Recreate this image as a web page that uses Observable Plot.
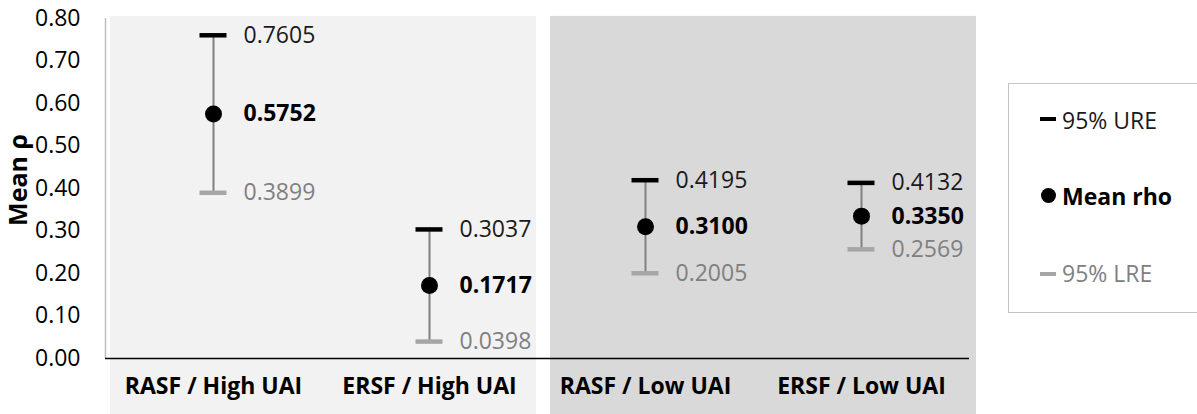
<!DOCTYPE html>
<html>
<head>
<meta charset="utf-8">
<script src="https://cdn.jsdelivr.net/npm/d3@7"></script>
<script src="https://cdn.jsdelivr.net/npm/@observablehq/plot@0.6"></script>
<style>
  html, body { margin: 0; padding: 0; background: #fff; overflow: hidden; }
  #wrap { position: relative; width: 1197px; height: 414px; font-family: "Open Sans", sans-serif; }
  #legend { position: absolute; left: 1008px; top: 83px; width: 200px; height: 230px;
            border: 1.5px solid #c4c4c4; background: #fff; box-sizing: border-box; }
  .item { position: absolute; left: 0; height: 30px; display: flex; align-items: center; font-size: 23px; }
  .sym { position: absolute; left: 31px; top: 0; }
  .lab { position: absolute; left: 53px; white-space: nowrap; }
</style>
</head>
<body>
<div id="wrap"></div>
<script>
const categories = ["RASF / High UAI", "ERSF / High UAI", "RASF / Low UAI", "ERSF / Low UAI"];
const upper = [0.7605, 0.3037, 0.4195, 0.4132];
const means = [0.5752, 0.1717, 0.3100, 0.3350];
const lower = [0.3899, 0.0398, 0.2005, 0.2569];
const yTicks = [0, 0.1, 0.2, 0.3, 0.4, 0.5, 0.6, 0.7, 0.8];
const legendLabels = ["95% URE", "Mean rho", "95% LRE"];
const yLabel = "Mean ρ";

const data = categories.map((c, i) => ({cat: c, ur: upper[i], mean: means[i], lr: lower[i]}));
const fmt4 = d3.format(".4f");

const panelTop = 0.805, panelBottom = -0.132;
const panel = (cat, fill, l, r) => Plot.barY([cat], {x: d => d, y1: panelBottom, y2: panelTop, fill, insetLeft: l, insetRight: r});

const chart = Plot.plot({
  width: 1197,
  height: 414,
  marginLeft: 105,
  marginRight: 228,
  marginTop: 18,
  marginBottom: 56,
  style: {fontFamily: "Open Sans", background: "transparent"},
  x: {domain: categories, padding: 0},
  y: {domain: [0, 0.8]},
  marks: [
    panel(categories[0], "#f2f2f2", 5, 0),
    panel(categories[1], "#f2f2f2", 0, 1),
    panel(categories[2], "#d9d9d9", 13, 0),
    panel(categories[3], "#d9d9d9", 0, -7),
    Plot.ruleX([0], {x: () => categories[0], dx: -108, y1: 0, y2: 0.8, stroke: "#bfbfbf", strokeWidth: 1.5}),
    Plot.ruleY([0], {stroke: "#000", strokeWidth: 1.5}),
    Plot.axisY({ticks: yTicks, tickFormat: d3.format(".2f"), tickSize: 0, tickPadding: 25, label: null, fontSize: 23, fill: "#000"}),
    Plot.axisX({tickSize: 0, tickPadding: 19, label: null, fontSize: 23, fontWeight: "bold", fill: "#000"}),
    Plot.text([yLabel], {text: d => d, x: () => categories[0], y: () => 0.42, dx: -195, rotate: -90, fontSize: 25, fontWeight: "bold", fill: "#000"}),
    Plot.ruleX(data, {x: "cat", y1: "lr", y2: "ur", stroke: "#808080", strokeWidth: 2}),
    Plot.tickY(data, {x: "cat", y: "ur", stroke: "#000", strokeWidth: 4.5, insetLeft: 94.5, insetRight: 94.5}),
    Plot.tickY(data, {x: "cat", y: "lr", stroke: "#a6a6a6", strokeWidth: 4.5, insetLeft: 94.5, insetRight: 94.5}),
    Plot.dot(data, {x: "cat", y: "mean", r: 8.5, fill: "#000"}),
    Plot.text(data, {x: "cat", y: "ur", text: d => fmt4(d.ur), dx: 30, textAnchor: "start", fontSize: 23, fill: "#1a1a1a"}),
    Plot.text(data, {x: "cat", y: "mean", text: d => fmt4(d.mean), dx: 30, textAnchor: "start", fontSize: 23, fontWeight: "bold", fill: "#000"}),
    Plot.text(data, {x: "cat", y: "lr", text: d => fmt4(d.lr), dx: 30, textAnchor: "start", fontSize: 23, fill: "#808080"})
  ]
});

const wrap = document.getElementById("wrap");
wrap.appendChild(chart);

const legend = document.createElement("div");
legend.id = "legend";
const items = [
  {label: legendLabels[0], top: 21, sym: '<div style="width:16px;height:4px;background:#000;margin-top:12px"></div>', style: "color:#1a1a1a"},
  {label: legendLabels[1], top: 97, sym: '<div style="width:15px;height:15px;border-radius:50%;background:#000;margin-top:7px;margin-left:1px"></div>', style: "color:#000;font-weight:bold"},
  {label: legendLabels[2], top: 174, sym: '<div style="width:16px;height:4px;background:#a6a6a6;margin-top:14px"></div>', style: "color:#808080"}
];
for (const it of items) {
  const el = document.createElement("div");
  el.className = "item";
  el.style.top = it.top + "px";
  el.style.width = "200px";
  el.innerHTML = `<div class="sym">${it.sym}</div><div class="lab" style="${it.style}">${it.label}</div>`;
  legend.appendChild(el);
}
wrap.appendChild(legend);
</script>
</body>
</html>
